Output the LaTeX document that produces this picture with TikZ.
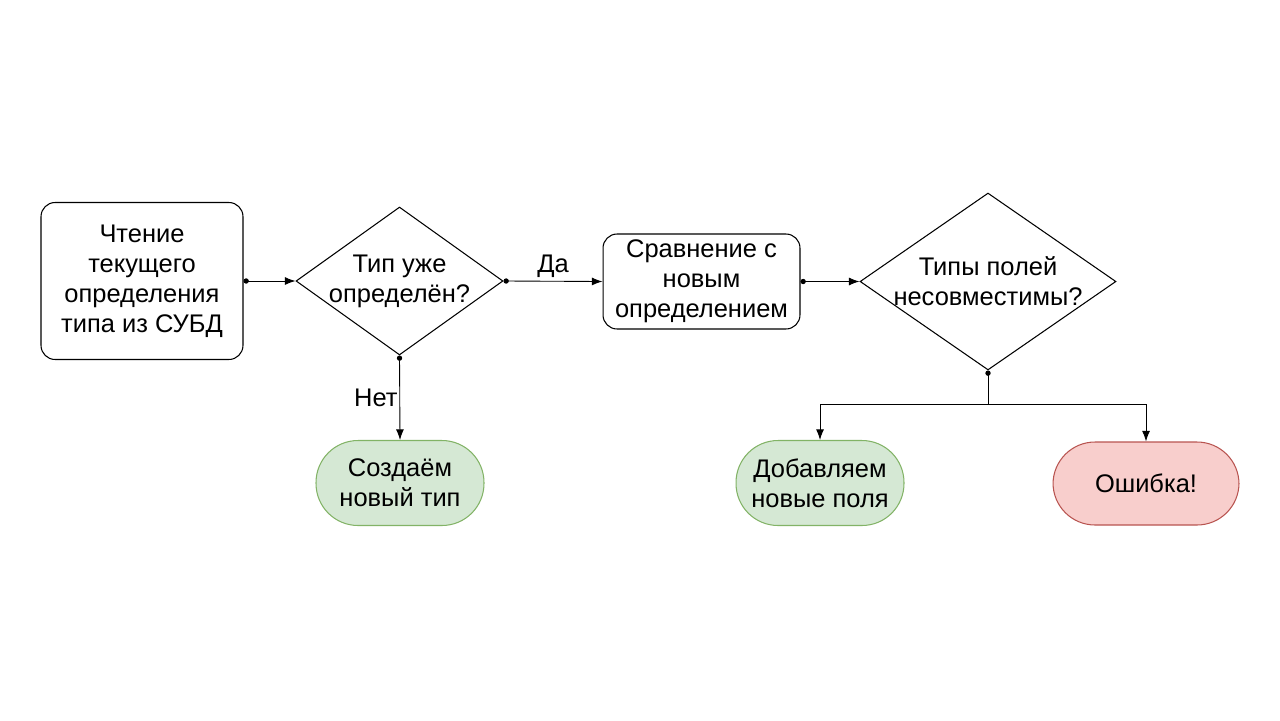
\documentclass[tikz,border=0pt]{standalone}
\usepackage{fontspec}
\setmainfont{Liberation Sans}
\usetikzlibrary{shapes.geometric, arrows.meta, positioning, calc}
\definecolor{okfill}{HTML}{D5E8D4}
\definecolor{okline}{HTML}{82B366}
\definecolor{errfill}{HTML}{F8CECC}
\definecolor{errline}{HTML}{B85450}
\tikzset{
  txt/.style={font=\fontsize{14.5}{17}\selectfont, align=center},
  procbox/.style={draw=black, line width=0.6pt, rounded corners=8pt, txt, inner sep=2pt},
  decision/.style={draw=black, line width=0.6pt, diamond, inner sep=0pt},
  terminal/.style={draw, line width=0.6pt, rounded corners=0.84cm, txt, minimum height=1.7cm},
  flow/.style={line width=0.5pt, {Circle[length=3pt]}-{Latex[length=6pt,width=4.5pt]}},
  branch/.style={line width=0.5pt, -{Latex[length=6pt,width=4.5pt]}}
}
\begin{document}
\begin{tikzpicture}[x=0.02cm, y=-0.02cm]
  \useasboundingbox (0,0) rectangle (1280,720);

  % main row
  \node[procbox, minimum width=4.04cm, minimum height=3.14cm] (read) at (142,281)
    {Чтение\\текущего\\определения\\типа из СУБД};
  \node[decision, minimum width=4.14cm, minimum height=2.96cm,
        label={[txt]center:Тип уже\\определён?}] (known) at (399.5,281) {};
  \node[procbox, minimum width=3.94cm, minimum height=1.9cm] (cmp) at (701.5,281.5)
    {Сравнение с\\новым\\определением};
  \node[decision, minimum width=5.12cm, minimum height=3.54cm,
        label={[txt]center:Типы полей\\несовместимы?}] (clash) at (988,281.5) {};

  % outcomes
  \node[terminal, fill=okfill, draw=okline, minimum width=3.36cm] (newtype) at (400,483)
    {Создаём\\новый тип};
  \node[terminal, fill=okfill, draw=okline, minimum width=3.36cm] (addf) at (820,483)
    {Добавляем\\новые поля};
  \node[terminal, fill=errfill, draw=errline, minimum width=3.72cm, minimum height=1.66cm] (err) at (1146,483.5)
    {Ошибка!};

  \coordinate (split) at (988,404);

  \draw[flow] (read.east) -- (known.west);
  \draw[flow] (known.east) -- node[txt, above, inner sep=2pt] (yes) {Да} (cmp.west);
  \draw[flow] (known.south) -- node[txt, left, inner sep=1pt] (no) {Нет} (newtype.north);
  \draw[flow] (cmp.east) -- (clash.west);
  \draw[flow] (clash.south) -- (split) -| (addf.north);
  \draw[branch] (split) -| (err.north);
\end{tikzpicture}
\end{document}
